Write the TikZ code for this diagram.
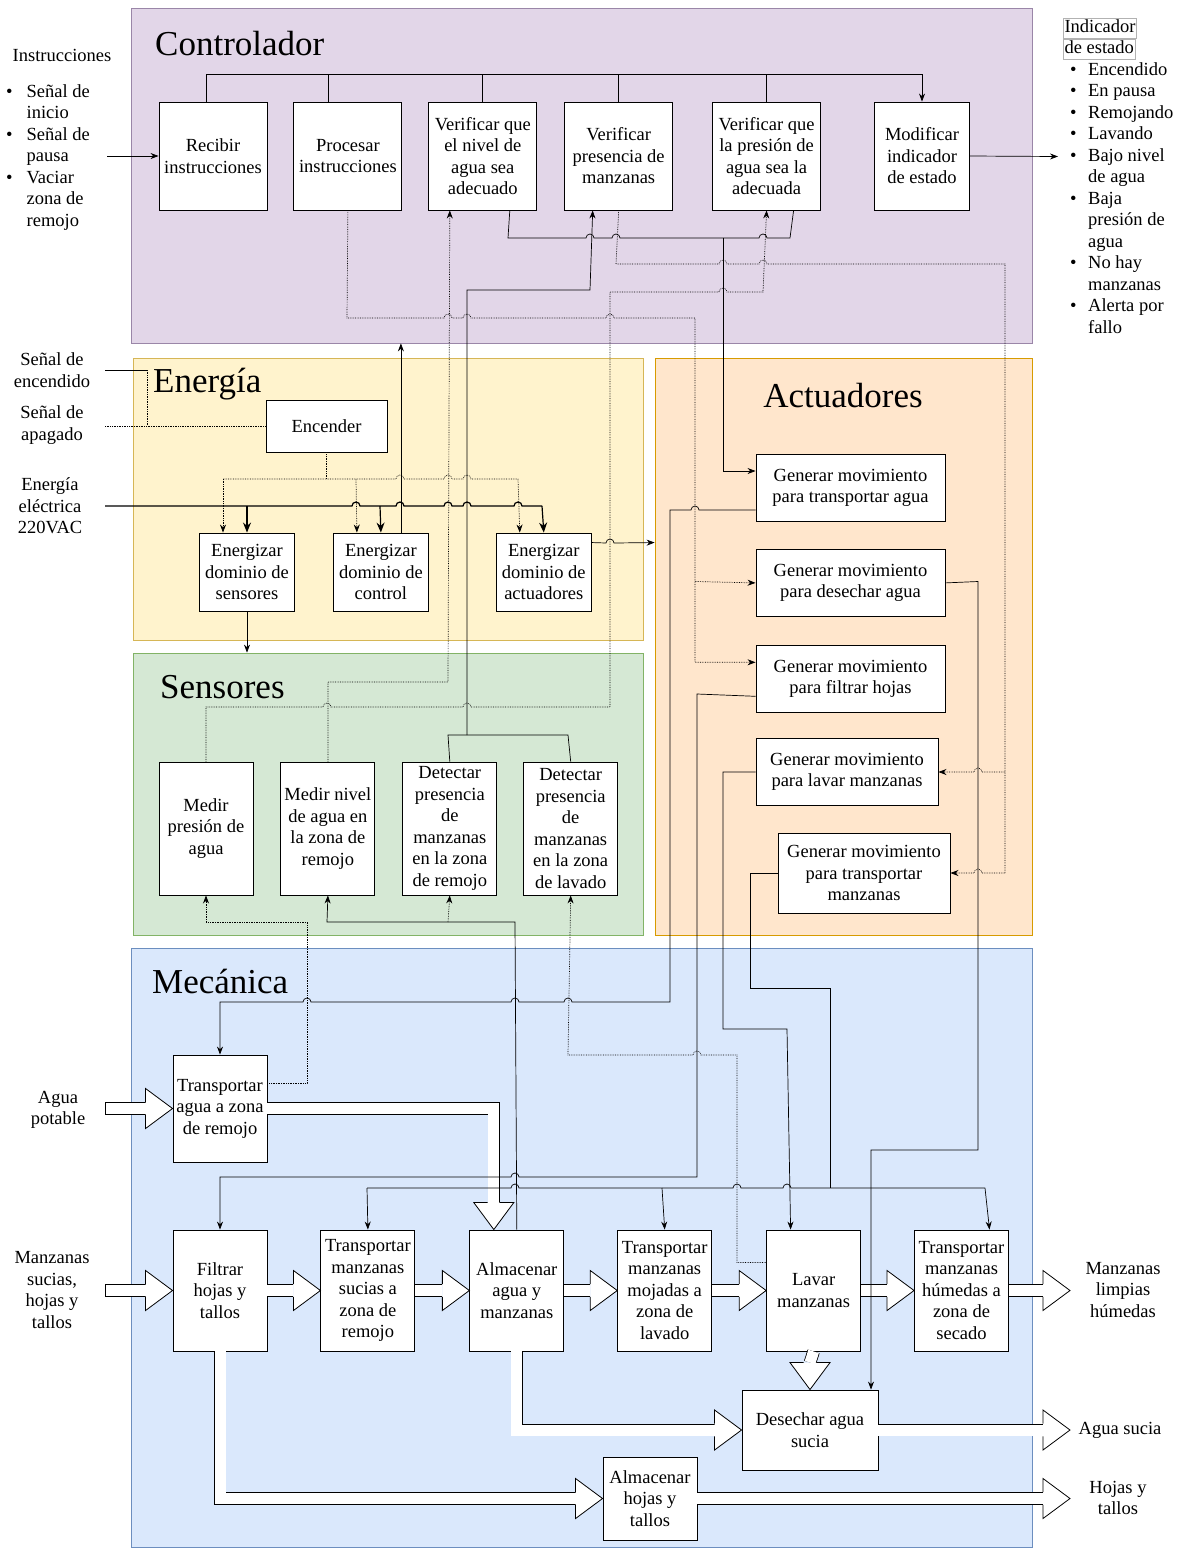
\documentclass[tikz,border=0pt]{standalone}
\usepackage{fontspec}
\setmainfont{Liberation Serif}
\usetikzlibrary{calc,positioning,arrows.meta}

\definecolor{ctlfill}{HTML}{E2D6E8}\definecolor{ctlline}{HTML}{9A86A8}
\definecolor{enefill}{HTML}{FFF3CD}\definecolor{eneline}{HTML}{D6B656}
\definecolor{actfill}{HTML}{FFE6CC}\definecolor{actline}{HTML}{D79B00}
\definecolor{senfill}{HTML}{D5E8D4}\definecolor{senline}{HTML}{82B366}
\definecolor{mecfill}{HTML}{DAE8FC}\definecolor{mecline}{HTML}{6C8EBF}

\newcommand{\diagfont}{\fontsize{18.5}{21.5}\selectfont}
\newcommand{\titlefont}{\fontsize{35}{40}\selectfont}
% small jumps where a line crosses another one
\newcommand{\hopR}[2]{-- (#1-4,#2) arc[start angle=180,end angle=0,radius=4pt]}
\newcommand{\hopL}[2]{-- (#1+4,#2) arc[start angle=0,end angle=180,radius=4pt]}
% head of a white block arrow, tip at #1, turned by #2
\newcommand{\fathead}[2]{\begin{scope}[shift={#1},rotate=#2]
  \draw[line width=0.8pt,fill=white] (-27,6.3) -- (-27,20) -- (0,0) -- (-27,-20) -- (-27,-6.3);
\end{scope}}

\begin{document}
\begin{tikzpicture}[x=1pt, y=-1pt,
    panel/.style={draw=#1line, fill=#1fill, line width=0.8pt, inner sep=0pt},
    title/.style={font=\titlefont, inner sep=0pt},
    fbox/.style={draw, fill=white, line width=0.9pt, align=center, inner sep=1pt, font=\diagfont},
    cbox/.style={fbox, minimum width=108pt, minimum height=108pt},
    ebox/.style={fbox, minimum width=95pt, minimum height=78pt},
    sbox/.style={fbox, minimum width=94pt, minimum height=133pt},
    abox/.style={fbox, minimum height=67pt},
    mbox/.style={fbox, minimum width=94pt, minimum height=121pt},
    txt/.style={align=center, font=\diagfont, inner sep=1pt},
    tag/.style={draw=black!30, line width=0.5pt, font=\diagfont, inner sep=1pt, text height=14pt, text depth=4.5pt},
    wire/.style={line width=0.7pt},
    wired/.style={wire, densely dotted},
    sig/.style={wire, -{Stealth[length=8pt,width=6pt]}},
    sigd/.style={sig, densely dotted},
    pow/.style={line width=1.2pt, -{Stealth[length=10pt,width=8pt]}},
    flow/.style={line width=0.8pt, double=white, double distance=11pt}]

\fill[white] (0,0) rectangle (1181,1548);
\useasboundingbox (0,0) rectangle (1181,1548);

% areas
\node[panel=ctl, minimum width=901pt, minimum height=335pt] (ctl) at (581.5,175.5) {};
\node[panel=ene, minimum width=510pt, minimum height=282pt] (ene) at (388,499) {};
\node[panel=act, minimum width=377pt, minimum height=577pt] (act) at (843.5,646.5) {};
\node[panel=sen, minimum width=510pt, minimum height=282pt] (sen) at (388,794) {};
\node[panel=mec, minimum width=901pt, minimum height=599pt] (mec) at (581.5,1247.5) {};
\node[title, anchor=base west] (ctltitle) at (155,55) {Controlador};
\node[title, anchor=base west] (enetitle) at (153,392) {Energía};
\node[title, anchor=base] (acttitle) at (843,407) {Actuadores};
\node[title, anchor=base west] (sentitle) at (160,698) {Sensores};
\node[title, anchor=base west] (mectitle) at (152,993) {Mecánica};

% controlador
\node[cbox] (rec) at (213,156) {Recibir\\instrucciones};
\node[cbox, right=26pt of rec] (pro) {Procesar\\instrucciones};
\node[cbox, right=26pt of pro] (vni) {Verificar que\\el nivel de\\agua sea\\adecuado};
\node[cbox, right=27pt of vni] (vpm) {Verificar\\presencia de\\manzanas};
\node[cbox, right=39pt of vpm] (vpr) {Verificar que\\la presión de\\agua sea la\\adecuada};
\node[cbox, minimum width=95pt, right=53pt of vpr] (mod) {Modificar\\indicador\\de estado};

% energia
\node[fbox, minimum width=121pt, minimum height=52pt] (enc) at (326.5,426) {Encender};
\node[ebox] (ens) at (247,572) {Energizar\\dominio de\\sensores};
\node[ebox, right=38pt of ens] (enco) {Energizar\\dominio de\\control};
\node[ebox, right=67pt of enco] (ena) {Energizar\\dominio de\\actuadores};

% sensores
\node[sbox] (mpa) at (206,828.5) {Medir\\presión de\\agua};
\node[sbox, right=27pt of mpa] (mna) {Medir nivel\\de agua en\\la zona de\\remojo};
\node[sbox, right=27pt of mna] (dpr) {Detectar\\presencia\\de\\manzanas\\en la zona\\de remojo};
\node[sbox, right=26pt of dpr] (dpl) {Detectar\\presencia\\de\\manzanas\\en la zona\\de lavado};

% actuadores
\node[abox, minimum width=189pt] (gta) at (850.5,488) {Generar movimiento\\para transportar agua};
\node[abox, minimum width=189pt, below=27pt of gta] (gda) {Generar movimiento\\para desechar agua};
\node[abox, minimum width=189pt, below=28pt of gda] (gfh) {Generar movimiento\\para filtrar hojas};
\node[abox, minimum width=182pt] (glm) at (847,772) {Generar movimiento\\para lavar manzanas};
\node[fbox, minimum width=172pt, minimum height=80pt] (gtm) at (864,873) {Generar movimiento\\para transportar\\manzanas};

% mecanica
\node[mbox, minimum height=107pt] (tar) at (220,1108.5) {Transportar\\agua a zona\\de remojo};
\node[mbox] (fil) at (220,1290.5) {Filtrar\\hojas y\\tallos};
\node[mbox, right=53pt of fil] (tms) {Transportar\\manzanas\\sucias a\\zona de\\remojo};
\node[mbox, right=54pt of tms] (alm) {Almacenar\\agua y\\manzanas};
\node[mbox, right=53pt of alm] (tmm) {Transportar\\manzanas\\mojadas a\\zona de\\lavado};
\node[mbox, right=54pt of tmm] (lav) {Lavar\\manzanas};
\node[mbox, right=53pt of lav] (tmh) {Transportar\\manzanas\\húmedas a\\zona de\\secado};
\node[fbox, minimum width=136pt, minimum height=80pt] (des) at (810,1430) {Desechar agua\\sucia};
\node[fbox, minimum width=94pt, minimum height=83pt] (alh) at (650,1498.5) {Almacenar\\hojas y\\tallos};

% textos de entrada y salida
\node[txt] (instr) at (62,55) {Instrucciones};
\node[txt, anchor=north west, inner sep=0pt] (instrlist) at (6,82) {\begin{tabular}{@{}c@{\hspace{14pt}}l@{}}
  \textbullet & Señal de\\ & inicio\\ \textbullet & Señal de\\ & pausa\\
  \textbullet & Vaciar\\ & zona de\\ & remojo\end{tabular}};
\node[tag] (ind1) at (1100,28) {Indicador};
\node[tag, anchor=north west] (ind2) at (ind1.south west) {de estado};
\node[txt, anchor=north west, inner sep=0pt] (indlist) at (1070,60) {\begin{tabular}{@{}c@{\hspace{11.5pt}}l@{}}
  \textbullet & Encendido\\ \textbullet & En pausa\\ \textbullet & Remojando\\ \textbullet & Lavando\\
  \textbullet & Bajo nivel\\ & de agua\\ \textbullet & Baja\\ & presión de\\ & agua\\
  \textbullet & No hay\\ & manzanas\\ \textbullet & Alerta por\\ & fallo\end{tabular}};
\node[txt] (onlbl) at (52,370) {Señal de\\encendido};
\node[txt] (offlbl) at (52,425) {Señal de\\apagado};
\node[txt] (pwrlbl) at (50,506) {Energía\\eléctrica\\220VAC};
\node[txt] (agualbl) at (58,1110) {Agua\\potable};
\node[txt] (manslbl) at (52,1290) {Manzanas\\sucias,\\hojas y\\tallos};
\node[txt] (limplbl) at (1123,1290) {Manzanas\\limpias\\húmedas};
\node[txt] (sucialbl) at (1120,1430) {Agua sucia};
\node[txt] (hojaslbl) at (1118,1498) {Hojas y\\tallos};

\coordinate (instrIn) at (107,156);
\coordinate (indOut) at (1058,156.5);
\coordinate (onIn) at (105,370);
\coordinate (offIn) at (105,426);
\coordinate (pwrIn) at (105,506);
\coordinate (aguaIn) at (105,1108.5);
\coordinate (mansIn) at (105,1290.5);
\coordinate (limpOut) at (1070,1290.5);
\coordinate (suciaOut) at (1070,1430);
\coordinate (hojasOut) at (1070,1498.5);

% flujo de materia
\draw[flow] (aguaIn) -- ($(tar.west)+(-27,0)$); \fathead{(tar.west)}{0}
\draw[line width=0.8pt] ($(aguaIn)+(0,-6.3)$) -- ($(aguaIn)+(0,6.3)$);
\draw[flow] (tar.east) -| ($(alm.north)+(-23,-27)$); \fathead{($(alm.north)+(-23,0)$)}{-90}
\draw[flow] (mansIn) -- ($(fil.west)+(-27,0)$); \fathead{(fil.west)}{0}
\draw[line width=0.8pt] ($(mansIn)+(0,-6.3)$) -- ($(mansIn)+(0,6.3)$);
\foreach \a/\b in {fil/tms,tms/alm,alm/tmm,tmm/lav,lav/tmh}{
  \draw[flow] (\a.east) -- ($(\b.west)+(-27,0)$); \fathead{(\b.west)}{0}
}
\draw[flow] (tmh.east) -- ($(limpOut)+(-27,0)$); \fathead{(limpOut)}{0}
\draw[flow] (lav.south) -- ($(des.north)+(0,-27)$); \fathead{(des.north)}{-90}
\draw[flow] (alm.south) |- ($(des.west)+(-27,0)$); \fathead{(des.west)}{0}
\draw[flow] (fil.south) |- ($(alh.west)+(-27,0)$); \fathead{(alh.west)}{0}
\draw[flow] (des.east) -- ($(suciaOut)+(-27,0)$); \fathead{(suciaOut)}{0}
\draw[flow] (alh.east) -- ($(hojasOut)+(-27,0)$); \fathead{(hojasOut)}{0}

% controlador
\draw[sig] ($(rec.north)+(-7,0)$) -- ++(0,-27) -| (mod.north);
\draw[wire] ($(pro.north)+(-20,0)$) -- ++(0,-27);
\draw[wire] (vni.north) -- ++(0,-27);
\draw[wire] (vpm.north) -- ++(0,-27);
\draw[wire] (vpr.north) -- ++(0,-27);
\draw[sig] (instrIn) -- (rec.west);
\draw[sig] (mod.east) -- (indOut);
\draw[sigd] (pro.south) -- (347,318) \hopR{448}{318} \hopR{467}{318} \hopR{610}{318} -- (695,318) |- ($(gfh.west)+(0,-16.5)$);
\draw[sigd] (695,581.5) -- (gda.west);
\draw[wire] ($(vni.south)+(27,0)$) -- (508,238) \hopR{590}{238} \hopR{616}{238} -- (723,238);
\draw[wire] ($(vpr.south)+(27,0)$) -- (790,238) \hopL{763}{238} -- (723,238);
\draw[sig] (723,238) |- ($(gta.west)+(0,-17)$);
\draw[wired] (vpm.south) -- (616,264) \hopR{723}{264} \hopR{763}{264} -- (1005,264) -- (1005,873);
\draw[sigd] (1005,772) \hopL{978}{772} -- (glm.east);
\draw[sigd] (1005,873) \hopL{978}{873} -- (gtm.east);

% sensores hacia controlador
\draw[sigd] (mna.north) |- (448,682) -- ($(vni.south)+(-33,0)$);
\draw[sigd] (mpa.north) -- (206,707) \hopR{327}{707} \hopR{467}{707} -- (610,707) -- (610,292) \hopR{723}{292} -- (763,292) -- (vpr.south);
\draw[wire] (dpr.north) -- (448,735) -- (568,735) -- (dpl.north);
\draw[sig] (467,735) -- (467,290) -- (590,290) -- ($(vpm.south)+(-26,0)$);

% energia
\draw[wire] (onIn) -- (147,370);
\draw[wired] (147,370) -- (147,426);
\draw[wired] (offIn) -- (enc.west);
\draw[wired] (enc.south) -- (326.5,479);
\draw[wired] (223,479) \hopR{400}{479} \hopR{448}{479} \hopR{467}{479} -- (518,479);
\draw[sigd] (223,479) -- ($(ens.north)+(-24,0)$);
\draw[sigd] (356,479) -- ($(enco.north)+(-24,0)$);
\draw[sigd] (518,479) -- ($(ena.north)+(-24,0)$);
\draw[line width=1.2pt] (pwrIn) \hopR{356}{506} \hopR{400}{506} \hopR{448}{506} \hopR{467}{506} \hopR{518}{506} -- (542,506);
\draw[pow] (247,506) -- (ens.north);
\draw[pow] (380,506) -- (enco.north);
\draw[pow] (542,506) -- (ena.north);
\coordinate (encoUp) at ($(enco.north)+(20,0)$);
\draw[sig] (encoUp) -- (encoUp |- ctl.south);
\draw[sig] (ens.south) -- (ens.south |- sen.north);
\coordinate (enaOut) at ($(ena.north east)+(0,10)$);
\draw[sig] (enaOut) \hopR{610}{543} -- (enaOut -| act.west);

% actuadores hacia mecanica
\draw[sig] ($(gta.west)+(0,22)$) \hopL{695}{510} -- (670,510) -- (670,1002) \hopL{568}{1002} \hopL{515}{1002} \hopL{307}{1002} -- (220,1002) -- (tar.north);
\draw[sig] ($(gfh.west)+(0,17.5)$) -- (697,694) -- (697,1177) \hopL{515}{1177} -- (220,1177) -- (fil.north);
\draw[sig] (glm.west) -- (723,772) -- (723,1029) -- (787,1029) -- ($(lav.north)+(-23,0)$);
\draw[wire] (gtm.west) -- (750,873) -- (750,988) -- (830,988) -- (830,1188);
\draw[wire] (367,1188) \hopR{515}{1188} \hopR{737}{1188} \hopR{787}{1188} -- (985,1188);
\draw[sig] (367,1188) -- (tms.north);
\draw[sig] (662,1188) -- (tmm.north);
\draw[sig] (985,1188) -- ($(tmh.north)+(28,0)$);
\draw[sig] (gda.east) -- (978,581.5) -- (978,1150) -- (871,1150) -- ($(des.north)+(61,0)$);

% mecanica hacia sensores
\draw[sigd] ($(tar.east)+(0,-25)$) -- (307,1083.5) -- (307,922) -- (206,922) -- (mpa.south);
\draw[sig] (alm.north) -- (515,922) -- (327,922) -- (mna.south);
\draw[sigd] (448,922) -- (dpr.south);
\draw[sigd] ($(lav.west)+(0,-28)$) -- (737,1262.5) -- (737,1055) \hopL{697}{1055} -- (568,1055) -- (dpl.south);
\end{tikzpicture}
\end{document}
